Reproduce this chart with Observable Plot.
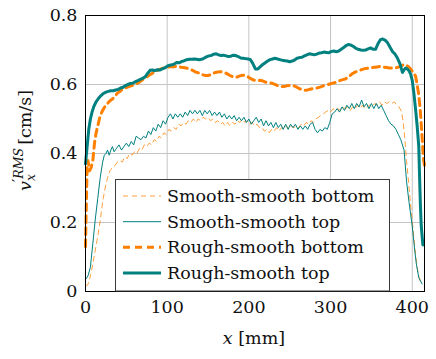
<!DOCTYPE html>
<html>
<head>
<meta charset="utf-8">
<script src="https://cdn.jsdelivr.net/npm/d3@7"></script>
<script src="https://cdn.jsdelivr.net/npm/@observablehq/plot@0.6"></script>
<style>
  html, body { margin: 0; padding: 0; background: #fff; }
</style>
</head>
<body>
<div id="chart"></div>
<script>
const seriesNames = ["Smooth-smooth bottom", "Smooth-smooth top", "Rough-smooth bottom", "Rough-smooth top"];
const xTicks = [0, 100, 200, 300, 400];
const yTicks = [0, 0.2, 0.4, 0.6, 0.8];

const smoothBottom = [[0,0.015],[3,0.02],[6,0.045],[9,0.08],[12,0.12],[15,0.16],[18,0.205],[21,0.26],[24,0.3],[27,0.33],[30,0.35],[33,0.36],[36,0.365],[39,0.375],[42,0.38],[45,0.375],[48,0.39],[51,0.385],[54,0.4],[57,0.395],[60,0.405],[63,0.4],[66,0.415],[69,0.41],[72,0.425],[75,0.42],[78,0.43],[81,0.425],[84,0.44],[87,0.435],[90,0.45],[93,0.445],[96,0.46],[99,0.455],[102,0.47],[105,0.465],[108,0.475],[111,0.47],[114,0.485],[117,0.48],[120,0.49],[123,0.485],[126,0.495],[129,0.49],[132,0.5],[135,0.49],[138,0.5],[141,0.495],[144,0.505],[147,0.5],[150,0.505],[153,0.495],[156,0.5],[159,0.49],[162,0.495],[165,0.485],[168,0.49],[171,0.48],[174,0.49],[177,0.48],[180,0.49],[183,0.485],[186,0.495],[189,0.49],[192,0.5],[195,0.49],[198,0.495],[201,0.485],[204,0.49],[207,0.48],[210,0.485],[213,0.475],[216,0.475],[219,0.465],[222,0.47],[225,0.46],[228,0.47],[231,0.465],[234,0.475],[237,0.465],[240,0.475],[243,0.47],[246,0.48],[249,0.47],[252,0.48],[255,0.475],[258,0.48],[261,0.475],[264,0.485],[267,0.48],[270,0.49],[273,0.485],[276,0.495],[279,0.49],[282,0.5],[285,0.505],[288,0.51],[291,0.515],[294,0.52],[297,0.525],[300,0.52],[303,0.53],[306,0.525],[309,0.53],[312,0.525],[315,0.535],[318,0.53],[321,0.535],[324,0.525],[327,0.535],[330,0.53],[333,0.54],[336,0.53],[339,0.54],[342,0.53],[345,0.535],[348,0.54],[351,0.535],[354,0.545],[357,0.54],[360,0.55],[363,0.54],[366,0.55],[369,0.545],[372,0.55],[375,0.545],[378,0.55],[381,0.54],[384,0.535],[387,0.52],[389,0.49],[391,0.44],[393,0.38],[395,0.33],[398,0.25],[401,0.18],[404,0.11],[406,0.07],[408,0.045],[410,0.03]];

const smoothTop = [[0,0.035],[3,0.045],[6,0.07],[9,0.14],[12,0.21],[15,0.27],[18,0.33],[21,0.375],[23,0.395],[25,0.4],[27,0.41],[29,0.395],[31,0.41],[33,0.42],[35,0.405],[38,0.415],[41,0.425],[44,0.41],[47,0.42],[50,0.43],[53,0.42],[56,0.435],[59,0.425],[62,0.45],[65,0.445],[68,0.44],[71,0.45],[74,0.445],[77,0.465],[80,0.455],[83,0.475],[86,0.465],[89,0.485],[92,0.475],[95,0.495],[98,0.485],[101,0.505],[104,0.515],[107,0.5],[110,0.515],[113,0.505],[116,0.515],[119,0.505],[122,0.52],[125,0.51],[128,0.525],[131,0.515],[134,0.525],[137,0.515],[140,0.525],[143,0.51],[146,0.525],[149,0.515],[152,0.525],[155,0.51],[158,0.52],[161,0.51],[164,0.52],[167,0.505],[170,0.515],[173,0.5],[176,0.51],[179,0.5],[182,0.51],[185,0.495],[188,0.505],[191,0.495],[194,0.505],[197,0.49],[200,0.5],[203,0.485],[206,0.495],[209,0.505],[212,0.49],[215,0.5],[218,0.48],[221,0.495],[224,0.48],[227,0.49],[230,0.475],[233,0.49],[236,0.475],[239,0.485],[242,0.47],[245,0.485],[248,0.47],[251,0.485],[254,0.475],[257,0.485],[260,0.47],[263,0.48],[266,0.47],[269,0.48],[272,0.47],[275,0.485],[278,0.49],[281,0.47],[284,0.46],[287,0.47],[290,0.465],[293,0.475],[296,0.47],[299,0.49],[302,0.515],[305,0.52],[308,0.53],[311,0.52],[314,0.535],[317,0.525],[320,0.54],[323,0.53],[326,0.545],[329,0.53],[332,0.545],[335,0.535],[338,0.555],[341,0.535],[344,0.545],[347,0.53],[350,0.545],[353,0.53],[356,0.545],[359,0.53],[362,0.54],[365,0.525],[368,0.51],[371,0.495],[374,0.485],[377,0.48],[380,0.47],[383,0.455],[386,0.44],[390,0.41],[393,0.32],[396,0.26],[400,0.19],[403,0.12],[405,0.08],[408,0.04],[412,0.022]];

const roughBottom = [[0,0.13],[1,0.25],[2,0.36],[3,0.38],[5,0.35],[7,0.36],[9,0.38],[11,0.43],[13,0.46],[15,0.48],[18,0.51],[21,0.525],[24,0.537],[27,0.545],[30,0.553],[33,0.558],[36,0.565],[39,0.575],[42,0.58],[45,0.585],[48,0.59],[51,0.592],[54,0.595],[57,0.597],[60,0.6],[63,0.603],[66,0.607],[69,0.612],[72,0.617],[75,0.622],[78,0.627],[81,0.631],[84,0.636],[87,0.64],[90,0.643],[93,0.646],[96,0.648],[99,0.65],[102,0.651],[105,0.652],[108,0.651],[111,0.653],[114,0.652],[117,0.65],[120,0.649],[123,0.648],[126,0.646],[129,0.643],[132,0.64],[135,0.636],[138,0.634],[141,0.631],[144,0.628],[147,0.626],[150,0.626],[153,0.628],[156,0.632],[159,0.635],[162,0.636],[165,0.637],[168,0.636],[171,0.634],[174,0.63],[177,0.626],[180,0.623],[183,0.621],[186,0.622],[189,0.625],[192,0.627],[195,0.627],[198,0.624],[201,0.619],[204,0.615],[207,0.612],[210,0.611],[213,0.612],[216,0.611],[219,0.608],[222,0.606],[225,0.605],[228,0.604],[231,0.601],[234,0.598],[237,0.595],[240,0.594],[243,0.594],[246,0.596],[249,0.597],[252,0.597],[255,0.596],[258,0.593],[261,0.589],[264,0.586],[267,0.584],[270,0.583],[273,0.585],[276,0.587],[279,0.588],[282,0.589],[285,0.591],[288,0.593],[291,0.596],[294,0.598],[297,0.6],[300,0.602],[303,0.604],[306,0.606],[309,0.609],[312,0.612],[315,0.614],[318,0.616],[321,0.62],[324,0.626],[327,0.632],[330,0.636],[333,0.638],[336,0.641],[339,0.644],[342,0.646],[345,0.647],[348,0.648],[351,0.649],[354,0.65],[357,0.651],[360,0.652],[363,0.651],[366,0.65],[369,0.649],[372,0.648],[375,0.648],[378,0.648],[381,0.649],[384,0.651],[387,0.655],[390,0.658],[393,0.656],[396,0.65],[399,0.642],[402,0.632],[404,0.625],[406,0.6],[408,0.57],[410,0.52],[412,0.45],[413,0.41],[414,0.38],[415,0.365]];

const roughTop = [[0,0.37],[2,0.42],[4,0.47],[6,0.5],[8,0.52],[10,0.535],[13,0.55],[16,0.56],[19,0.568],[22,0.574],[25,0.578],[28,0.58],[31,0.582],[34,0.582],[37,0.584],[40,0.586],[43,0.59],[46,0.592],[49,0.597],[52,0.6],[55,0.603],[58,0.604],[61,0.608],[64,0.611],[67,0.615],[70,0.618],[73,0.622],[76,0.632],[79,0.641],[82,0.642],[85,0.64],[88,0.643],[91,0.642],[94,0.645],[97,0.648],[100,0.653],[103,0.656],[106,0.657],[109,0.66],[112,0.664],[115,0.663],[118,0.667],[121,0.669],[124,0.672],[127,0.673],[130,0.673],[133,0.674],[136,0.673],[139,0.672],[142,0.673],[145,0.676],[148,0.68],[151,0.683],[154,0.684],[157,0.688],[160,0.689],[163,0.686],[166,0.684],[169,0.685],[172,0.683],[175,0.681],[178,0.682],[181,0.685],[184,0.684],[187,0.681],[190,0.677],[193,0.676],[196,0.675],[199,0.674],[202,0.672],[205,0.66],[208,0.645],[211,0.645],[214,0.652],[217,0.658],[220,0.663],[223,0.668],[226,0.672],[229,0.674],[232,0.676],[235,0.674],[238,0.672],[241,0.67],[244,0.669],[247,0.668],[250,0.666],[253,0.668],[256,0.671],[259,0.676],[262,0.678],[265,0.679],[268,0.683],[271,0.686],[274,0.689],[277,0.688],[280,0.686],[283,0.688],[286,0.691],[289,0.692],[292,0.694],[295,0.693],[298,0.692],[301,0.696],[304,0.697],[307,0.695],[310,0.697],[313,0.702],[316,0.707],[319,0.713],[322,0.716],[325,0.714],[328,0.71],[331,0.705],[334,0.702],[337,0.7],[340,0.699],[343,0.7],[346,0.703],[349,0.706],[352,0.702],[355,0.702],[358,0.718],[361,0.73],[364,0.732],[367,0.728],[370,0.72],[373,0.707],[376,0.695],[379,0.688],[382,0.676],[385,0.66],[388,0.635],[390,0.643],[392,0.648],[394,0.645],[396,0.64],[398,0.63],[400,0.612],[402,0.575],[404,0.53],[406,0.48],[408,0.42],[409,0.33],[410,0.25],[411,0.19],[413,0.135]];

const teal = "#00807f";
const orange = "#ff8000";
const styles = [
  {data: smoothBottom, stroke: orange, width: 1, dash: "5,4", opacity: 0.75},
  {data: smoothTop, stroke: teal, width: 1, dash: null, opacity: 1},
  {data: roughBottom, stroke: orange, width: 3, dash: "7,5", opacity: 1},
  {data: roughTop, stroke: teal, width: 3, dash: null, opacity: 1}
];

const font = "DejaVu Serif";
const fs = 17.5;

const plot = Plot.plot({
  width: 436,
  height: 359,
  marginLeft: 85,
  marginRight: 12,
  marginTop: 15,
  marginBottom: 68,
  style: {fontFamily: font, fontSize: fs + "px", background: "#fff", color: "#111"},
  x: {domain: [0, 415], ticks: xTicks, label: null, tickSize: 0, tickPadding: 9, tickFormat: d => String(d)},
  y: {domain: [0, 0.8], ticks: yTicks, label: null, tickSize: 0, tickPadding: 8, tickFormat: d => d === 0 ? "0" : d.toFixed(1)},
  marks: [
    Plot.gridX(xTicks, {stroke: "#c4c4c4", strokeOpacity: 1, strokeWidth: 1}),
    Plot.gridY(yTicks, {stroke: "#c4c4c4", strokeOpacity: 1, strokeWidth: 1}),
    ...styles.map(s => Plot.line(s.data, {x: d => d[0], y: d => d[1], stroke: s.stroke, strokeWidth: s.width, strokeDasharray: s.dash, strokeOpacity: s.opacity, strokeLinejoin: "round"})),
    Plot.frame({stroke: "#000", strokeWidth: 1})
  ]
});

document.getElementById("chart").appendChild(plot);

const svg = d3.select(plot);

// legend
const lg = svg.append("g");
lg.append("rect").attr("x", 115.5).attr("y", 179.5).attr("width", 274).attr("height", 111.5)
  .attr("fill", "#fff").attr("stroke", "#3a3a3a").attr("stroke-width", 1);
const rowY = [196, 221.7, 247.3, 273];
seriesNames.forEach((name, i) => {
  const s = styles[i];
  lg.append("line").attr("x1", 123).attr("x2", 161).attr("y1", rowY[i]).attr("y2", rowY[i])
    .attr("stroke", s.stroke).attr("stroke-width", s.width).attr("stroke-opacity", s.opacity)
    .attr("stroke-dasharray", s.dash);
  lg.append("text").attr("x", 167).attr("y", rowY[i]).attr("dy", "0.35em").attr("text-anchor", "start")
    .attr("font-family", font).attr("font-size", fs).attr("fill", "#111").text(name);
});

// x label
const xl = svg.append("text").attr("x", 254).attr("y", 344).attr("text-anchor", "middle")
  .attr("font-family", font).attr("font-size", fs).attr("fill", "#111");
xl.append("tspan").attr("font-style", "italic").text("x");
xl.append("tspan").text(" [mm]");

// y label
const yl = svg.append("text").attr("transform", "translate(31,191) rotate(-90)").attr("text-anchor", "start")
  .attr("font-family", font).attr("font-size", fs).attr("fill", "#111");
yl.append("tspan").attr("font-style", "italic").text("v");
yl.append("tspan").attr("font-style", "italic").attr("font-size", 12.5).attr("dy", 4).text("x");
yl.append("tspan").attr("font-size", 15).attr("dx", -8).attr("dy", -12).text("′");
yl.append("tspan").attr("font-style", "italic").attr("font-size", 12.5).text("RMS");
yl.append("tspan").attr("dx", 3).attr("dy", 8).text("[cm/s]");
</script>
</body>
</html>
